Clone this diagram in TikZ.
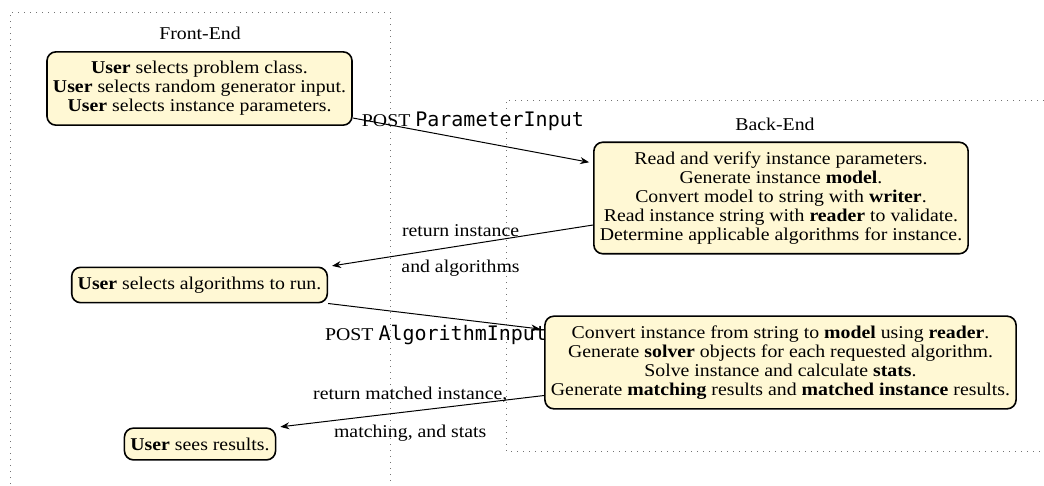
\documentclass[tikz,border=0pt]{standalone}
\usepackage{fontspec}
\setmainfont[FakeStretch=1.1]{Liberation Serif}
\newfontfamily\monof{DejaVu Sans Mono}
\usetikzlibrary{arrows.meta}
\definecolor{boxfill}{RGB}{255,248,212}
\tikzset{
  stage/.style={draw=black, line width=1.6pt, rounded corners=9pt, fill=boxfill,
    align=center, inner xsep=6pt, inner ysep=9.5pt, font=\fontsize{18}{19}\selectfont},
  region/.style={draw=black!55, line width=1pt, dash pattern=on 1pt off 5pt},
  regionlabel/.style={font=\fontsize{18}{19}\selectfont},
  flow/.style={-{Stealth[length=9pt,width=7pt,inset=3pt]}, line width=1pt, shorten >=4pt},
  lbl/.style={font=\fontsize{18}{19}\selectfont},
}
\begin{document}
\begin{tikzpicture}[x=1pt,y=-1pt]
\useasboundingbox (0,0) rectangle (1044,485);
% regions
\draw[region] (10,490) -- (10,12) -- (390,12) -- (390,490);
\draw[region] (1050,100) -- (506,100) -- (506,451) -- (1050,451);
\node[regionlabel] (fe) at (200,33) {Front-End};
\node[regionlabel] (be) at (775,124) {Back-End};
% boxes
\node[stage] (b1) at (199.5,88.5) {\textbf{User} selects problem class.\\\textbf{User} selects random generator input.\\\textbf{User} selects instance parameters.};
\node[stage] (b2) at (781,198) {Read and verify instance parameters.\\Generate instance \textbf{model}.\\Convert model to string with \textbf{writer}.\\Read instance string with \textbf{reader} to validate.\\Determine applicable algorithms for instance.};
\node[stage] (b3) at (199.5,285) {\textbf{User} selects algorithms to run.};
\node[stage] (b4) at (780.5,362.5) {Convert instance from string to \textbf{model} using \textbf{reader}.\\Generate \textbf{solver} objects for each requested algorithm.\\Solve instance and calculate \textbf{stats}.\\Generate \textbf{matching} results and \textbf{matched instance} results.};
\node[stage] (b5) at (200,444) {\textbf{User} sees results.};
% connectors
\draw[flow] ([yshift=-29.5pt]b1.east) -- node[lbl, above=6pt] {POST {\monof\fontsize{20}{20}\selectfont ParameterInput}} ([yshift=35pt]b2.west);
\draw[flow] ([yshift=-27pt]b2.west) -- node[lbl, above=5pt] {return instance} node[lbl, below=10pt] {and algorithms} (b3.north east);
\draw[flow] (b3.south east) -- node[lbl, below=5pt] {POST {\monof\fontsize{20}{20}\selectfont AlgorithmInput}} ([yshift=33pt]b4.west);
\draw[flow] ([yshift=-33pt]b4.west) -- node[lbl, above=5pt] {return matched instance,} node[lbl, below=10pt] {matching, and stats} (b5.north east);
\end{tikzpicture}
\end{document}
